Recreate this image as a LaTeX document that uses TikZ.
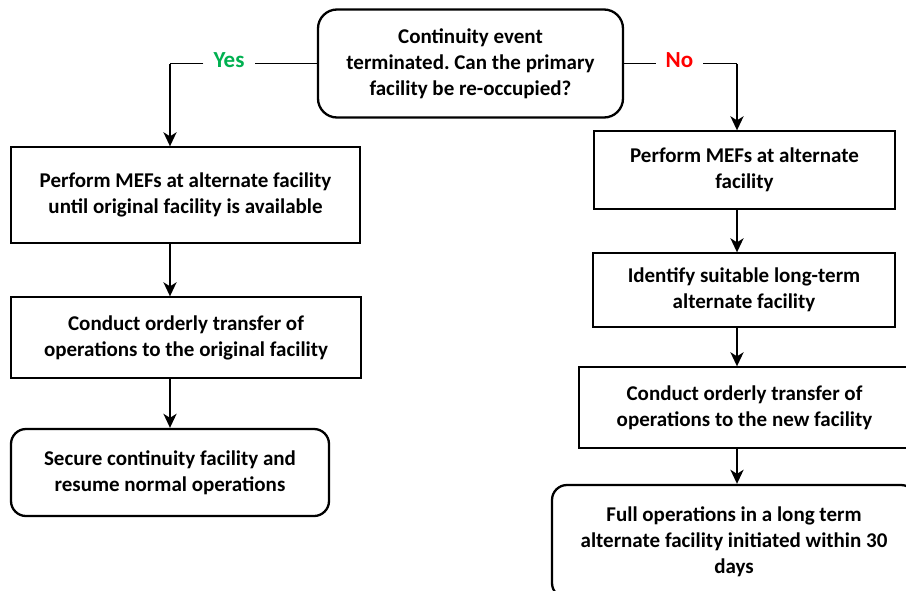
\documentclass[tikz,border=0pt]{standalone}
\usepackage{fontspec}
\setmainfont{Carlito}
\usepackage{tikz}
\usetikzlibrary{arrows.meta}
\usepackage{xcolor}
\definecolor{myGreenish}{HTML}{00B050}
\definecolor{myBrightRed}{HTML}{FF0000}
\colorlet{colorYes}{myGreenish}
\colorlet{colorNo}{myBrightRed}
\frenchspacing

\begin{document}
\begin{tikzpicture}[x=1pt,y=-1pt,
    procBox/.style={draw, line width=1.3pt, align=center, inner sep=0pt,
      font=\fontsize{21}{26}\selectfont\bfseries},
    endBox/.style={procBox, line width=2.3pt, rounded corners=15pt},
    flowArrow/.style={-{Stealth[length=14pt,width=13pt,inset=4pt]}, line width=2.6pt},
    branchLine/.style={line width=1.3pt},
    answerText/.style={font=\fontsize{23}{28}\selectfont\bfseries, inner xsep=10pt, inner ysep=0pt}]
        \useasboundingbox (0,0) rectangle (906,590);
        \clip (0,0) rectangle (906,590);
        % question
        \node[endBox, rounded corners=19pt, minimum width=305pt, minimum height=108pt] (question) at (470.5,63.5)
          {Continuity event\\terminated. Can the primary\\facility be re-occupied?};
        % yes branch
        \node[answerText, text=colorYes] (yes) at (229,60) {Yes};
        \coordinate (yesturn) at (170,63.5);
        \node[procBox, minimum width=349pt, minimum height=96pt] (yes1) at (185.5,195)
          {Perform MEFs at alternate facility\\until original facility is available};
        \node[procBox, minimum width=350pt, minimum height=81pt] (yes2) at (186,337.5)
          {Conduct orderly transfer of\\operations to the original facility};
        \node[endBox, minimum width=318pt, minimum height=87pt] (yes3) at (170,472.5)
          {Secure continuity facility and\\resume normal operations};
        % no branch
        \node[answerText, text=colorNo] (no) at (679.5,60) {No};
        \coordinate (noturn) at (737,63.5);
        \node[procBox, minimum width=301pt, minimum height=78pt] (no1) at (744.5,170)
          {Perform MEFs at alternate\\facility};
        \node[procBox, minimum width=302pt, minimum height=74pt] (no2) at (744,290)
          {Identify suitable long-term\\alternate facility};
        \node[procBox, minimum width=331pt, minimum height=81pt] (no3) at (744.5,407.5)
          {Conduct orderly transfer of\\operations to the new facility};
        \node[endBox, minimum width=364pt, minimum height=113pt] (no4) at (734,541.5)
          {Full operations in a long term\\alternate facility initiated within 30\\days};
        % connectors
        \draw[branchLine] (question.west) -- (yes.east |- question.west);
        \draw[branchLine] (yes.west |- question.west) -- (yesturn);
        \draw[flowArrow] (yesturn) -- (yes1.north -| yesturn);
        \draw[flowArrow] (yes1.south -| yesturn) -- (yes2.north -| yesturn);
        \draw[flowArrow] (yes2.south -| yesturn) -- (yes3.north -| yesturn);
        \draw[branchLine] (question.east) -- (no.west |- question.east);
        \draw[branchLine] (no.east |- question.east) -- (noturn);
        \draw[flowArrow] (noturn) -- (no1.north -| noturn);
        \draw[flowArrow] (no1.south -| noturn) -- (no2.north -| noturn);
        \draw[flowArrow] (no2.south -| noturn) -- (no3.north -| noturn);
        \draw[flowArrow] (no3.south -| noturn) -- (no4.north -| noturn);
      \end{tikzpicture}
\end{document}
